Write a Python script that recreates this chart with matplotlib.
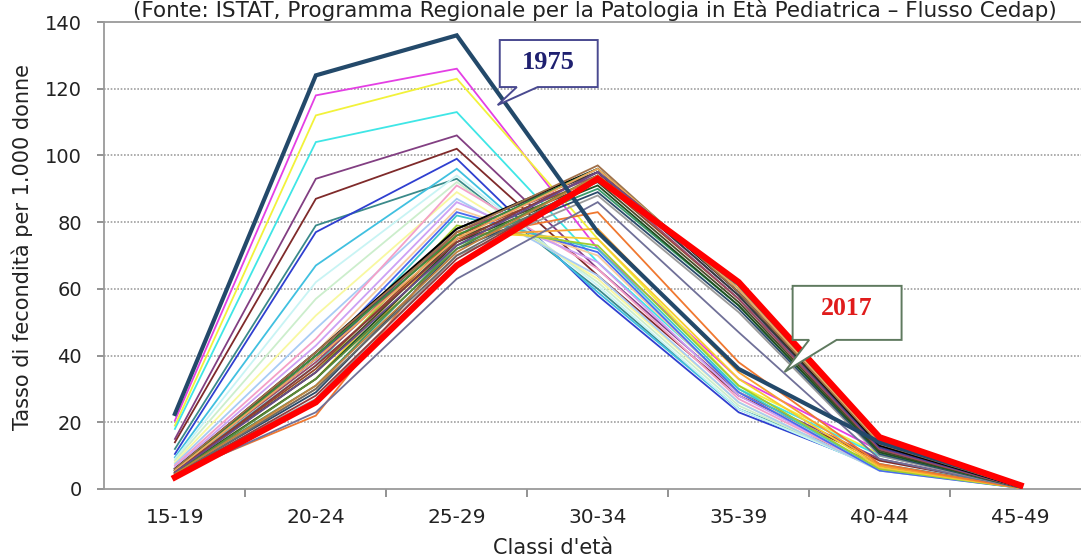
import matplotlib
matplotlib.use("Agg")
import matplotlib.pyplot as plt
from matplotlib.patches import Polygon
from matplotlib.ticker import FixedLocator

# classi d'eta' e anni (1975-2017)
classi = ["15-19", "20-24", "25-29", "30-34", "35-39", "40-44", "45-49"]
anni = list(range(1975, 2018))

# tassi, una lista per classe d'eta' (un valore per anno)
t15_19 = [22.5, 20.5, 19, 18, 15, 14, 12, 10.5, 9.5, 9, 8.5, 8, 7.5, 7, 6.5, 6, 6, 5.5, 5.5, 5, 5, 4.5,
          4, 4.5, 4.5, 5, 5, 5.5, 5.5, 6, 6, 6, 6, 6, 5.5, 5.5, 5, 5, 4.5, 4.5, 4, 4, 3.5]
t20_24 = [124, 118, 112, 104, 93, 87, 79, 77, 67, 62, 57, 52, 48, 45, 43, 41, 39, 37, 35, 33, 30, 22,
          23, 27, 29, 31, 33, 35, 36, 38, 39, 40, 41, 41, 40, 39, 37, 35, 33, 31, 30, 28, 26]
t25_29 = [136, 126, 123, 113, 106, 102, 93, 99, 96, 94, 92, 89, 87, 91, 86, 84, 83, 82, 79, 77, 76, 75,
          63, 70, 72, 73, 74, 75, 76, 77, 78, 78, 78, 77, 76, 75, 74, 73, 72, 71, 70, 69, 67]
t30_34 = [77, 72, 75, 68, 66, 64, 60, 58, 59, 61, 62, 63, 64, 66, 68, 70, 71, 72, 73, 75, 78, 83,
          86, 88, 89, 90, 91, 92, 93, 94, 95, 95, 96, 97, 96, 96, 95, 95, 94, 94, 93, 93, 93]
t35_39 = [36, 33, 31, 30, 29, 28, 24, 23, 24, 24, 25, 26, 26, 27, 28, 29, 29, 30, 31, 33, 35, 38,
          47, 53, 54, 55, 55, 56, 57, 57, 58, 58, 59, 59, 60, 60, 61, 61, 61, 62, 61, 62, 62]
t40_44 = [14, 11.5, 10.5, 10, 9, 8.5, 7.5, 6.5, 6, 6, 6, 5.5, 5.5, 6, 6, 6, 5.5, 6, 6, 6.5, 7, 7.5,
          9, 10, 10.5, 11, 11, 11.5, 12, 12, 12.5, 13, 13, 13.5, 14, 14, 14.5, 15, 15, 15, 15, 15.5, 15.5]
t45_49 = [1.2, 1.0, 0.9, 0.8, 0.7, 0.7, 0.6, 0.5, 0.5, 0.5, 0.4, 0.4, 0.4, 0.4, 0.4, 0.4, 0.3, 0.3, 0.3, 0.3, 0.3, 0.3,
          0.4, 0.4, 0.4, 0.5, 0.5, 0.5, 0.5, 0.5, 0.6, 0.6, 0.6, 0.7, 0.7, 0.8, 0.8, 0.9, 0.9, 0.9, 1.0, 1.0, 1.1]

colori = [
    "#23496A", "#E43FE4", "#F2F23A", "#3FE6E6", "#823F82", "#7F2A2A", "#3A8A8A", "#2F3FD0",
    "#40C0E0", "#C8F4F4", "#CCEECC", "#F8F8A0", "#A8CCF4", "#F4A0C8", "#CCA0F4", "#F8CCA0",
    "#4A6AF0", "#40C8C8", "#A0CC30", "#F8CC30", "#F8A030", "#F07830", "#707098", "#9A9A9A",
    "#2A4A6A", "#3A9A6A", "#1F4F1F", "#4A4A2A", "#9A4A2A", "#9A4A6A", "#3A3A9A", "#3A3A3A",
    "#000000", "#A0704A", "#3C8C3C", "#F0A860", "#8A3A3A", "#6A4A8A", "#5A8A3A", "#C08040",
    "#6A6A6A", "#8F3F3F", "#FF0000",
]

plt.rcParams["font.family"] = ["DejaVu Sans"]

fig = plt.figure(figsize=(10.81, 5.6), dpi=100)
ax = fig.add_axes([104 / 1081, 71 / 560, 987 / 1081, 467 / 560])

x = range(len(classi))
serie = list(zip(t15_19, t20_24, t25_29, t30_34, t35_39, t40_44, t45_49))
for i, anno in enumerate(anni):
    if anno == 1975:
        lw, z = 3.0, 5
    elif anno == 2017:
        lw, z = 4.5, 6
    else:
        lw, z = 1.3, 3
    ax.plot(x, serie[i], color=colori[i], lw=lw, zorder=z, solid_joinstyle="miter")

ax.set_xlim(-0.503, 6.5)
ax.set_ylim(0, 140)

# griglia tratteggiata
ax.yaxis.set_major_locator(FixedLocator(range(0, 141, 20)))
for v in range(20, 140, 20):
    ax.axhline(v, color="#A0A0A0", lw=1.2, ls=(0, (1, 1)), zorder=1)

ax.set_xticks(list(x))
ax.set_xticklabels(classi)
ax.xaxis.set_minor_locator(FixedLocator([k + 0.5 for k in range(6)]))
ax.tick_params(axis="x", which="major", length=0, labelsize=14.5, pad=14, colors="#222222")
ax.tick_params(axis="x", which="minor", length=6, width=1.2, color="#808080")
ax.tick_params(axis="y", length=5, width=1.2, color="#808080", labelsize=14, pad=11, labelcolor="#222222")

for s in ["left", "bottom", "top"]:
    ax.spines[s].set_color("#9A9A9A")
    ax.spines[s].set_linewidth(1.3)
ax.spines["right"].set_visible(False)

ax.set_ylabel("Tasso di fecondità per 1.000 donne", fontsize=15, color="#222222")
ax.yaxis.set_label_coords(-71 / 987, 0.5 + 8 / 467)
ax.set_xlabel("Classi d'età", fontsize=15, color="#222222")
ax.xaxis.set_label_coords(449 / 987, -49 / 467)

fig.text(595 / 1081, 1 - 17 / 560,
         "(Fonte: ISTAT, Programma Regionale per la Patologia in Età Pediatrica \u2013 Flusso Cedap)",
         ha="center", va="baseline", fontsize=15.5, color="#222222")


def callout(x0, x1, y0, y1, b0, b1, tip, edge):
    pts = [(x0, y1), (x1, y1), (x1, y0), (b1, y0), tip, (b0, y0), (x0, y0)]
    ax.add_patch(Polygon(pts, closed=True, facecolor="white", edgecolor=edge,
                         lw=1.4, zorder=10, clip_on=False))


callout(2.305, 3.0, 120.5, 134.6, 2.426, 2.574, (2.29, 115.1), "#4A4A90")
ax.text(2.652, 127.8, "1975", ha="center", va="center", fontsize=19, fontweight="bold",
        family="Liberation Serif", color="#1F2070", zorder=11)

callout(4.383, 5.156, 44.7, 60.9, 4.50, 4.695, (4.326, 35.1), "#5F7A5F")
ax.text(4.77, 54.2, "2017", ha="center", va="center", fontsize=18.5, fontweight="bold",
        family="Liberation Serif", color="#E01B1B", zorder=11)

fig.savefig("out.png", dpi=100)
